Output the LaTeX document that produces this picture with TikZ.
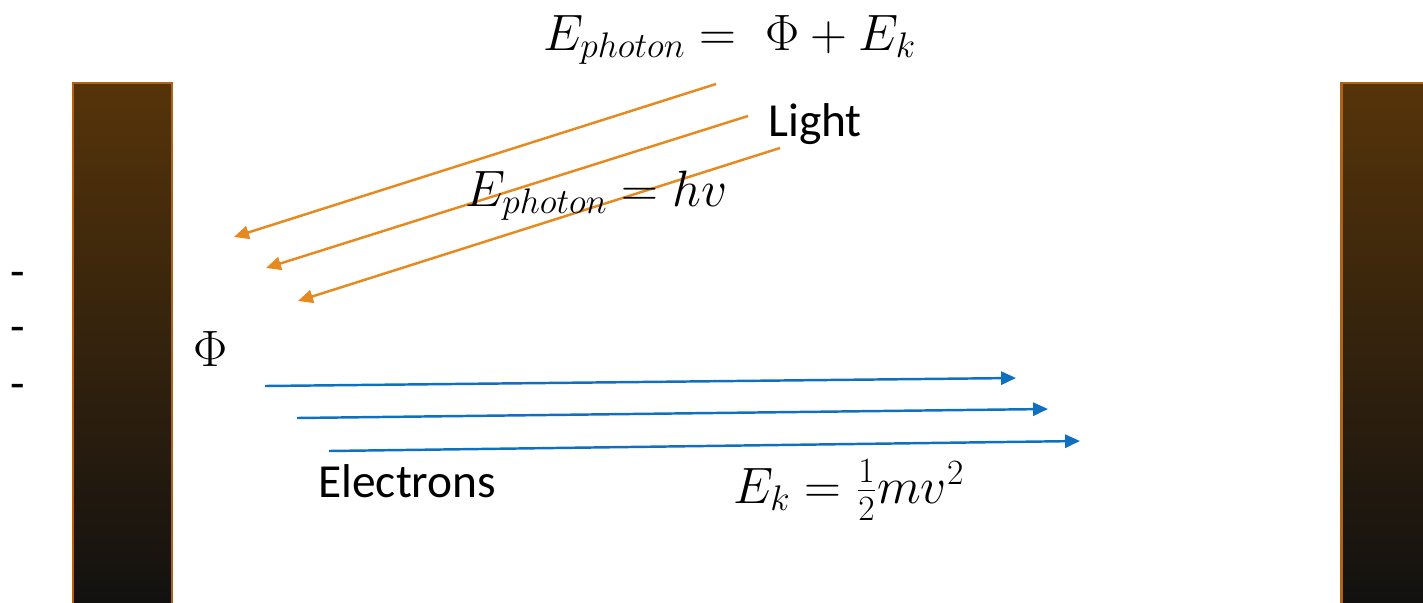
\documentclass[tikz,border=0pt]{standalone}
\usepackage{graphicx}
\usepackage{fontspec}
\setmainfont{Carlito}
\usetikzlibrary{arrows.meta}
\definecolor{lightorange}{RGB}{230,137,30}
\definecolor{electronblue}{RGB}{16,112,192}
\definecolor{platerim}{RGB}{176,98,22}
\definecolor{platetop}{RGB}{86,52,10}
\definecolor{platemid}{RGB}{54,42,30}
\definecolor{platebot}{RGB}{16,16,16}
\newcommand{\bigmath}[1]{\scalebox{1.17}{$#1$}}
\tikzset{
  plate/.style={draw=platerim, line width=1.7pt, top color=platetop,
    middle color=platemid, bottom color=platebot},
  photon/.style={draw=lightorange, line width=1.4pt, -{Triangle[length=8.5pt,width=7.5pt]}},
  electron/.style={draw=electronblue, line width=1.4pt, -{Triangle[length=8.5pt,width=7.5pt]}},
  label/.style={inner sep=0pt, anchor=base west}
}
\begin{document}
\begin{tikzpicture}[x=0.02cm, y=0.02cm, font=\fontsize{27}{32}\selectfont]
    \useasboundingbox (0,0) rectangle (1423,-602);
    \clip (0,0) rectangle (1423,-602);
    % Plates
    \shade[plate] (73,-83) rectangle (172,-620);    % cathode
    \shade[plate] (1341,-83) rectangle (1440,-620); % anode
    % Charges
    \node (minusa) at (18,-280) {-};
    \node (minusb) at (18,-335) {-};
    \node (minusc) at (18,-392) {-};
    % Work function
    \node (phi) at (211,-349) {\bigmath{\Phi}};
    % Light rays
    \coordinate (ls1) at (716,-84);  \coordinate (le1) at (234,-237);
    \coordinate (ls2) at (748,-116); \coordinate (le2) at (266,-268);
    \coordinate (ls3) at (780,-148); \coordinate (le3) at (298,-301);
    \foreach \i in {1,2,3}
        \draw[photon] (ls\i) -- (le\i);
    % Electron paths
    \coordinate (es1) at (265,-386); \coordinate (ee1) at (1016,-378);
    \coordinate (es2) at (297,-418); \coordinate (ee2) at (1048,-409);
    \coordinate (es3) at (329,-451); \coordinate (ee3) at (1080,-441);
    \foreach \i in {1,2,3}
        \draw[electron] (es\i) -- (ee\i);
    % Labels
    \node[label] (balance) at (543,-50) {\bigmath{E_{photon} =\;\Phi + E_k}};
    \node[label] (light) at (768,-136) {Light};
    \node[label] (energy) at (465,-206) {\bigmath{E_{photon} = hv}};
    \node[label] (electrons) at (318,-497) {Electrons};
    \node[label] (kinetic) at (733,-503) {\bigmath{E_k = \frac{1}{2}mv^2}};
\end{tikzpicture}
\end{document}
